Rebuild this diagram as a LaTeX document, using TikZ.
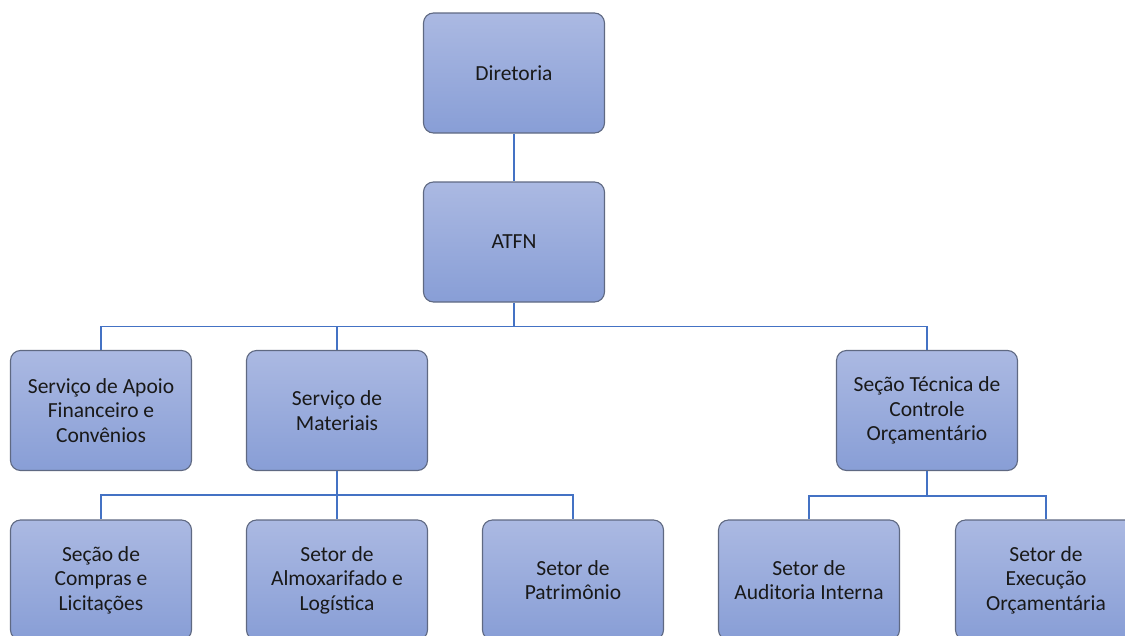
\documentclass[tikz,border=0pt]{standalone}
\usepackage{fontspec}
\setmainfont{Carlito}
\usetikzlibrary{calc}
\definecolor{boxtop}{RGB}{171,185,226}
\definecolor{boxbot}{RGB}{136,158,214}
\definecolor{boxline}{RGB}{95,105,130}
\definecolor{conn}{RGB}{68,114,196}
\definecolor{txt}{RGB}{25,25,25}
\tikzset{
  orgbox/.style={draw=boxline, line width=1.1pt, rounded corners=10pt,
    top color=boxtop, bottom color=boxbot, minimum width=181pt, minimum height=120pt,
    align=center, text=txt, font=\fontsize{21.5}{24.5}\selectfont, inner sep=2pt},
  link/.style={draw=conn, line width=1.8pt}
}
\begin{document}
\begin{tikzpicture}[x=1pt,y=-1pt]
\useasboundingbox (0,0) rectangle (1125,635);
\clip (0,0) rectangle (1125,635);
\node[orgbox] (dir) at (514,73) {Diretoria};
\node[orgbox] (atfn) at (514,242) {ATFN};
\node[orgbox] (sapf) at (101,410.5) {Serviço de Apoio\\Financeiro e\\Convênios};
\node[orgbox] (smat) at (337,410.5) {Serviço de\\Materiais};
\node[orgbox] (stco) at (927,410.5) {Seção Técnica de\\Controle\\Orçamentário};
\node[orgbox] (scl) at (101,580) {Seção de\\Compras e\\Licitações};
\node[orgbox] (sal) at (337,580) {Setor de\\Almoxarifado e\\Logística};
\node[orgbox] (spa) at (573,580) {Setor de\\Patrimônio};
\node[orgbox] (sai) at (809,580) {Setor de\\Auditoria Interna};
\node[orgbox] (seo) at (1046,580) {Setor de\\Execução\\Orçamentária};
\draw[link] (dir.south) -- (atfn.north);
\coordinate (b1) at ($(atfn.south)+(0,24)$);
\draw[link] (atfn.south) -- (b1);
\draw[link] (b1) -| (sapf.north);
\draw[link] (b1) -| (smat.north);
\draw[link] (b1) -| (stco.north);
\coordinate (b2) at ($(smat.south)+(0,24)$);
\draw[link] (smat.south) -- (b2);
\draw[link] (b2) -| (scl.north);
\draw[link] (b2) -| (sal.north);
\draw[link] (b2) -| (spa.north);
\coordinate (b3) at ($(stco.south)+(0,25)$);
\draw[link] (stco.south) -- (b3);
\draw[link] (b3) -| (sai.north);
\draw[link] (b3) -| (seo.north);
\end{tikzpicture}
\end{document}
